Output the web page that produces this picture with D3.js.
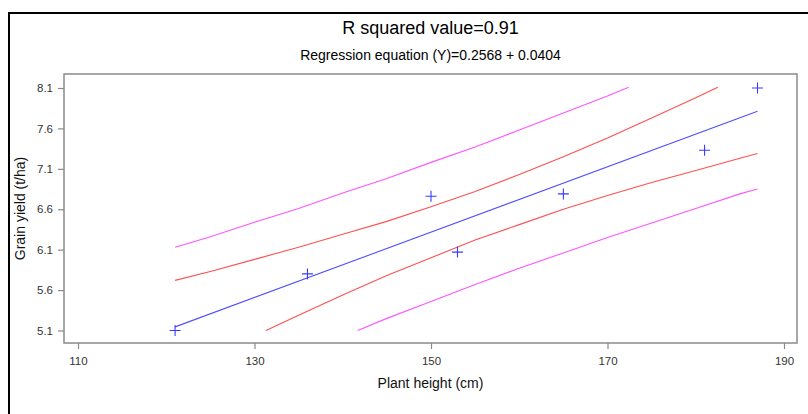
<!DOCTYPE html>
<html>
<head>
<meta charset="utf-8">
<script src="https://cdn.jsdelivr.net/npm/d3@7"></script>
<style>
  html, body { margin: 0; padding: 0; background: #fff; }
  svg { display: block; font-family: Arial, "Liberation Sans", Helvetica, sans-serif; }
</style>
</head>
<body>
<svg id="chart" width="808" height="414"></svg>
<script>
// ---- data ----
const titleText = "R squared value=0.91";
const subtitleText = "Regression equation (Y)=0.2568 + 0.0404";
const xLabel = "Plant height (cm)";
const yLabel = "Grain yield (t/ha)";

const xTicks = [110, 130, 150, 170, 190];
const yTicks = [5.1, 5.6, 6.1, 6.6, 7.1, 7.6, 8.1];

// observed points: plant height (cm), grain yield (t/ha)
const heights = [121, 136, 150, 153, 165, 181, 187];
const yields  = [5.10, 5.80, 6.76, 6.07, 6.79, 7.33, 8.10];

// fitted regression line (ends)
const fitLine = [[121, 5.145], [187, 7.812]];

// 95% confidence band for the mean (red)
const upperCI = [[121,5.72],[125,5.83],[130,5.98],[135,6.13],[140,6.29],[145,6.45],[150,6.63],[155,6.82],[160,7.03],[165,7.25],[170,7.48],[175,7.73],[180,7.98],[182.5,8.11]];
const lowerCI = [[131.3,5.10],[135,5.29],[140,5.54],[145,5.78],[150,6.00],[155,6.22],[160,6.41],[165,6.60],[170,6.77],[175,6.93],[180,7.08],[185,7.23],[187,7.29]];

// 95% prediction band (magenta)
const upperPI = [[121,6.13],[125,6.26],[130,6.44],[135,6.61],[140,6.80],[145,6.98],[150,7.18],[155,7.37],[160,7.58],[165,7.79],[170,8.00],[172.4,8.11]];
const lowerPI = [[141.7,5.10],[145,5.25],[150,5.46],[155,5.67],[160,5.87],[165,6.06],[170,6.25],[175,6.43],[180,6.61],[185,6.79],[187,6.85]];

// ---- layout ----
const svg = d3.select("#chart");
const frame = { left: 64, right: 797, top: 74, bottom: 343 };

const x = d3.scaleLinear().domain([110, 190]).range([78, 784]);
const y = d3.scaleLinear().domain([5.1, 8.1]).range([330.5, 88]);

// outer border
svg.append("rect")
  .attr("x", 9).attr("y", 13).attr("width", 830).attr("height", 430)
  .attr("fill", "none").attr("stroke", "#000").attr("stroke-width", 2);

// titles
const cx = (frame.left + frame.right) / 2;
svg.append("text").attr("x", cx).attr("y", 34).attr("text-anchor", "middle")
  .attr("font-size", 18).attr("fill", "#000").text(titleText);
svg.append("text").attr("x", cx).attr("y", 60).attr("text-anchor", "middle")
  .attr("font-size", 14).attr("fill", "#000").text(subtitleText);

// plot frame
svg.append("rect")
  .attr("x", frame.left).attr("y", frame.top)
  .attr("width", frame.right - frame.left).attr("height", frame.bottom - frame.top)
  .attr("fill", "none").attr("stroke", "#8a8a8a").attr("stroke-width", 1.5);

// axes
const xAxis = svg.append("g").attr("transform", `translate(0,${frame.bottom})`)
  .call(d3.axisBottom(x).tickValues(xTicks).tickSize(6).tickPadding(8).tickFormat(d3.format("d")));
const yAxis = svg.append("g").attr("transform", `translate(${frame.left},0)`)
  .call(d3.axisLeft(y).tickValues(yTicks).tickSize(6).tickPadding(5).tickFormat(d3.format(".1f")));
[xAxis, yAxis].forEach(g => {
  g.select(".domain").remove();
  g.selectAll(".tick line").attr("stroke", "#8a8a8a").attr("stroke-width", 1.2);
  g.selectAll(".tick text").attr("fill", "#333").attr("font-size", 11.5)
    .attr("font-family", "Arial, 'Liberation Sans', sans-serif");
});

// axis titles
svg.append("text").attr("x", cx).attr("y", 388).attr("text-anchor", "middle")
  .attr("font-size", 14).attr("fill", "#111").text(xLabel);
svg.append("text").attr("transform", `translate(25,${(frame.top + frame.bottom) / 2}) rotate(-90)`)
  .attr("text-anchor", "middle").attr("font-size", 14).attr("fill", "#111").text(yLabel);

// lines
const line = d3.line().x(d => x(d[0])).y(d => y(d[1]));
const series = [
  { data: upperPI, color: "#ff55ff" },
  { data: lowerPI, color: "#ff55ff" },
  { data: upperCI, color: "#ff5050" },
  { data: lowerCI, color: "#ff5050" },
  { data: fitLine, color: "#5050ff" }
];
svg.append("g").selectAll("path").data(series).join("path")
  .attr("d", d => line(d.data))
  .attr("fill", "none").attr("stroke", d => d.color).attr("stroke-width", 1.1);

// points as "+"
const pts = heights.map((h, i) => [h, yields[i]]);
const arm = 5.5;
const pg = svg.append("g").attr("stroke", "#3a3aff").attr("stroke-width", 1.1);
pg.selectAll("path").data(pts).join("path")
  .attr("d", d => {
    const px = x(d[0]), py = y(d[1]);
    return `M${px - arm},${py}H${px + arm}M${px},${py - arm}V${py + arm}`;
  });
</script>
</body>
</html>
